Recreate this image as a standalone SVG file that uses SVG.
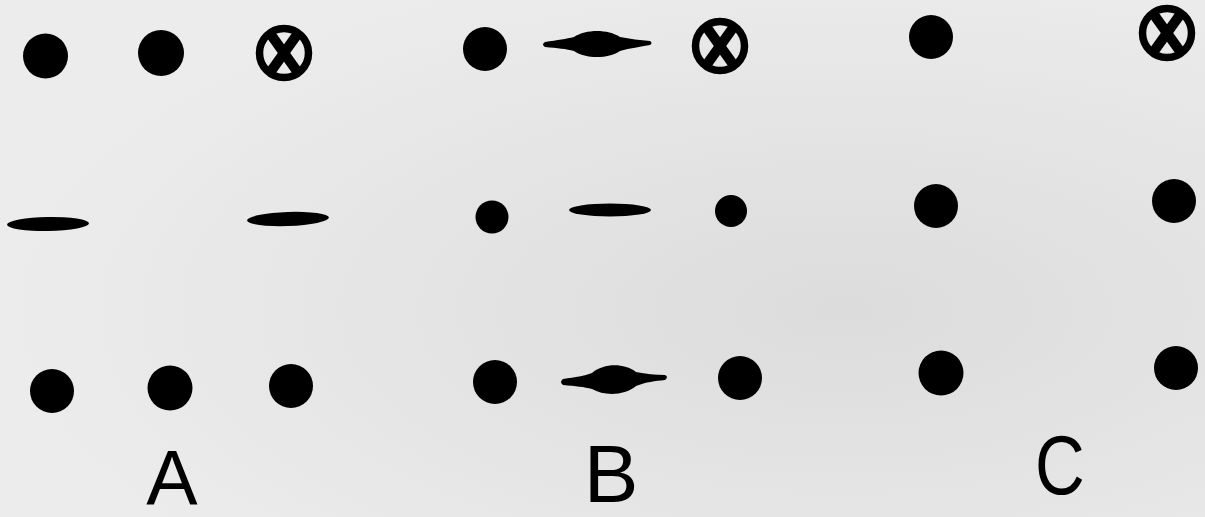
<svg xmlns="http://www.w3.org/2000/svg" width="1205" height="517" viewBox="0 0 1205 517">
<style>
.dot{fill:#000}
.ring{fill:none;stroke:#000;stroke-width:7.5}
.x{stroke:#000;stroke-width:10;stroke-linecap:butt}
.blob{fill:#000}
.lbl{font-family:"Liberation Sans",Arial,sans-serif;fill:#000;text-anchor:middle}
</style>
<defs>
<g id="xc">
<circle class="ring" cx="0" cy="0" r="24.5"/>
<line class="x" x1="-15" y1="-21" x2="15" y2="21"/>
<line class="x" x1="15" y1="-21" x2="-15" y2="21"/>
</g>
<radialGradient id="bg" cx="0.7" cy="0.6" r="0.7">
<stop offset="0" stop-color="#dcdcdc"/>
<stop offset="1" stop-color="#ececec"/>
</radialGradient>
</defs>
<rect width="1205" height="517" fill="url(#bg)"/>
<g id="panel-A">
<circle class="dot" cx="45.5" cy="56" r="22.5"/>
<circle class="dot" cx="161" cy="53" r="23"/>
<use href="#xc" x="284" y="53"/>
<ellipse class="blob" cx="48" cy="224" rx="41" ry="7" transform="rotate(-1 48 224)"/>
<ellipse class="blob" cx="288" cy="219" rx="41" ry="7" transform="rotate(-2 288 219)"/>
<circle class="dot" cx="52" cy="391" r="22"/>
<circle class="dot" cx="170" cy="388" r="22.5"/>
<circle class="dot" cx="291" cy="386" r="22"/>
<text class="lbl" x="172" y="505" font-size="77">A</text>
</g>
<g id="panel-B">
<circle class="dot" cx="485" cy="49" r="22"/>
<path class="blob" d="M545,42 C558,40 566,39 574,37 C586,29 608,29 620,37 C630,39 640,40 650,41 Q653,43 650,45 C640,47 630,48 620,51 C608,59 586,59 574,51 C566,49 558,48 545,47 Q541,44.5 545,42 Z"/>
<use href="#xc" x="720" y="46"/>
<circle class="dot" cx="492" cy="217" r="16.5"/>
<ellipse class="blob" cx="610" cy="210" rx="41" ry="6.5"/>
<circle class="dot" cx="731" cy="211" r="16"/>
<circle class="dot" cx="495" cy="382" r="22"/>
<path class="blob" d="M563,379 C576,377 584,376 592,373 C604,363 624,363 636,372 C646,374 655,375 665,375 Q669,377 665,380 C655,381 646,382 636,386 C624,396 604,396 592,389 C584,387 576,386 563,385 Q559,382 563,379 Z"/>
<circle class="dot" cx="740" cy="378" r="22"/>
<text class="lbl" x="611" y="502" font-size="82">B</text>
</g>
<g id="panel-C">
<circle class="dot" cx="931" cy="37" r="22"/>
<use href="#xc" x="1167" y="33"/>
<circle class="dot" cx="936" cy="206" r="22"/>
<circle class="dot" cx="1174" cy="201" r="22"/>
<circle class="dot" cx="941" cy="373" r="22.5"/>
<circle class="dot" cx="1176" cy="368" r="22"/>
<text class="lbl" x="1060" y="494" font-size="84" transform="translate(1060 0) scale(0.82 1) translate(-1060 0)">C</text>
</g>
</svg>
